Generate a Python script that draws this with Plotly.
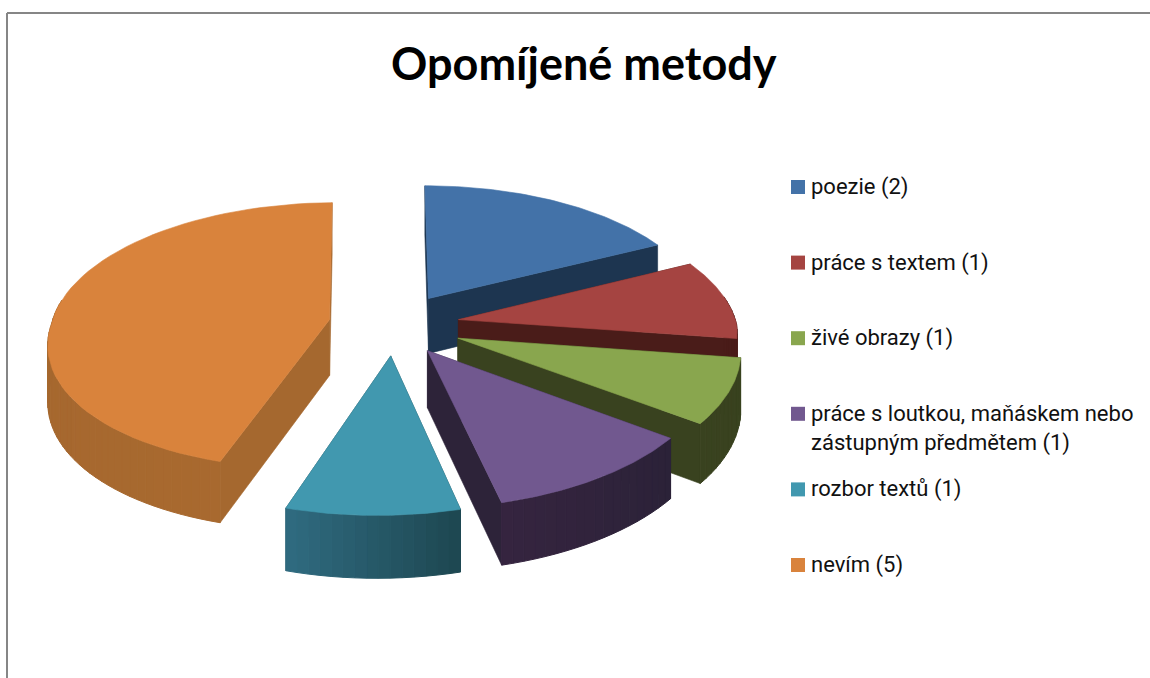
import numpy as np
import plotly.graph_objects as go

title = "Opomíjené metody"
categories = ["poezie (2)", "práce s textem (1)", "živé obrazy (1)",
              "práce s loutkou, maňáskem nebo\nzástupným předmětem (1)",
              "rozbor textů (1)", "nevím (5)"]
values = [2, 1, 1, 1, 1, 5]
top_colors = ["#4372a8", "#a54441", "#89a64e", "#71588f", "#4198af", "#d9833c"]
wall_from = ["#1d3550", "#4a1c19", "#39421f", "#35243f", "#2f6a7f", "#a2662e"]
wall_to = ["#1d3550", "#4a1c19", "#39421f", "#2b2238", "#1e4852", "#a8692f"]
face_colors = ["#1d3550", "#4a1c19", "#39421f", "#2d2339", "#1e4852", "#a5682f"]

# pie geometry, in page pixels
cx, cy = 394, 324
rx, ry = 278, 132
persp = 0.12
skew = 14
explode = [0.235, 0.235, 0.255, 0.235, 0.235, 0.235]
depth = 56
# small view correction of the slice edges, degrees
edge_shift = [0, -2, 0, -5, 1.5, 0, -1]


def project(u, v, drop=0):
    s = 1 / (1 + persp * v)
    return cx + rx * u * s - skew * max(-v, 0), cy - ry * v * s + drop * (1 - 0.1 * v)


def hex_mix(a, b, t):
    ca = [int(a[i:i + 2], 16) for i in (1, 3, 5)]
    cb = [int(b[i:i + 2], 16) for i in (1, 3, 5)]
    return "rgb(%d,%d,%d)" % tuple(round(p + (q - p) * t) for p, q in zip(ca, cb))


def poly(fig, pts, color, width=0.6):
    xs = [p[0] for p in pts]
    ys = [p[1] for p in pts]
    fig.add_trace(go.Scatter(x=xs + xs[:1], y=ys + ys[:1], mode="lines", fill="toself",
                             fillcolor=color, line=dict(color=color, width=width),
                             hoverinfo="skip", showlegend=False))


fig = go.Figure()

edges = np.concatenate([[0], np.cumsum(values)]) / sum(values) * 2 * np.pi
mids = (edges[:-1] + edges[1:]) / 2
edges = edges + np.radians(edge_shift)

# far slices first so the near ones paint over them
for i in sorted(range(len(values)), key=lambda k: -np.cos(mids[k])):
    a0, a1 = edges[i], edges[i + 1]
    ox, oy = explode[i] * np.sin(mids[i]), explode[i] * np.cos(mids[i])
    angs = np.linspace(a0, a1, max(3, int(np.degrees(a1 - a0) / 2) + 1))

    def pt(a, r=1, drop=0):
        return project(ox + r * np.sin(a), oy + r * np.cos(a), drop)

    # radial faces
    for a in (a0, a1):
        poly(fig, [pt(a, 0), pt(a, 1), pt(a, 1, depth), pt(a, 0, depth)], face_colors[i])

    # outer wall with its gradient, strip by strip; the far part is hidden anyway
    for j in range(len(angs) - 1):
        if np.cos(angs[j]) > 0.15 and np.cos(angs[j + 1]) > 0.15:
            continue
        c = hex_mix(wall_to[i], wall_from[i], j / max(1, len(angs) - 2))
        poly(fig, [pt(angs[j]), pt(angs[j + 1]), pt(angs[j + 1], 1, depth), pt(angs[j], 1, depth)], c, 1)

    poly(fig, [pt(a0, 0)] + [pt(a) for a in np.linspace(a0, a1, 60)], top_colors[i])

# legend
leg_y = 187
leg_step = 75.6
fig.add_trace(go.Scatter(x=[798] * len(categories), y=[leg_y + leg_step * i for i in range(len(categories))],
                         mode="markers", marker=dict(symbol="square", size=14, color=top_colors),
                         hoverinfo="skip", showlegend=False))
for i, label in enumerate(categories):
    for k, line in enumerate(label.split("\n")):
        fig.add_annotation(x=809, y=leg_y + leg_step * i + 29 * k, text=line, showarrow=False,
                           xanchor="left", yanchor="middle",
                           font=dict(family="Roboto", size=22, color="#111111"))

fig.add_annotation(x=584, y=63, text="<b>%s</b>" % title, showarrow=False, xanchor="center", yanchor="middle",
                   font=dict(family="Lato", size=45, color="black"))

fig.update_layout(
    width=1150, height=678,
    margin=dict(l=0, r=0, t=0, b=0),
    paper_bgcolor="white", plot_bgcolor="white",
    xaxis=dict(range=[0, 1150], visible=False),
    yaxis=dict(range=[678, 0], visible=False),
    shapes=[
        dict(type="line", x0=7, x1=7, y0=13, y1=678, line=dict(color="#868686", width=2)),
        dict(type="line", x0=7, x1=1150, y0=13, y1=13, line=dict(color="#868686", width=2)),
    ],
)
fig.write_html("out.html", post_script="document.body.style.margin='0';", config=dict(displayModeBar=False))
